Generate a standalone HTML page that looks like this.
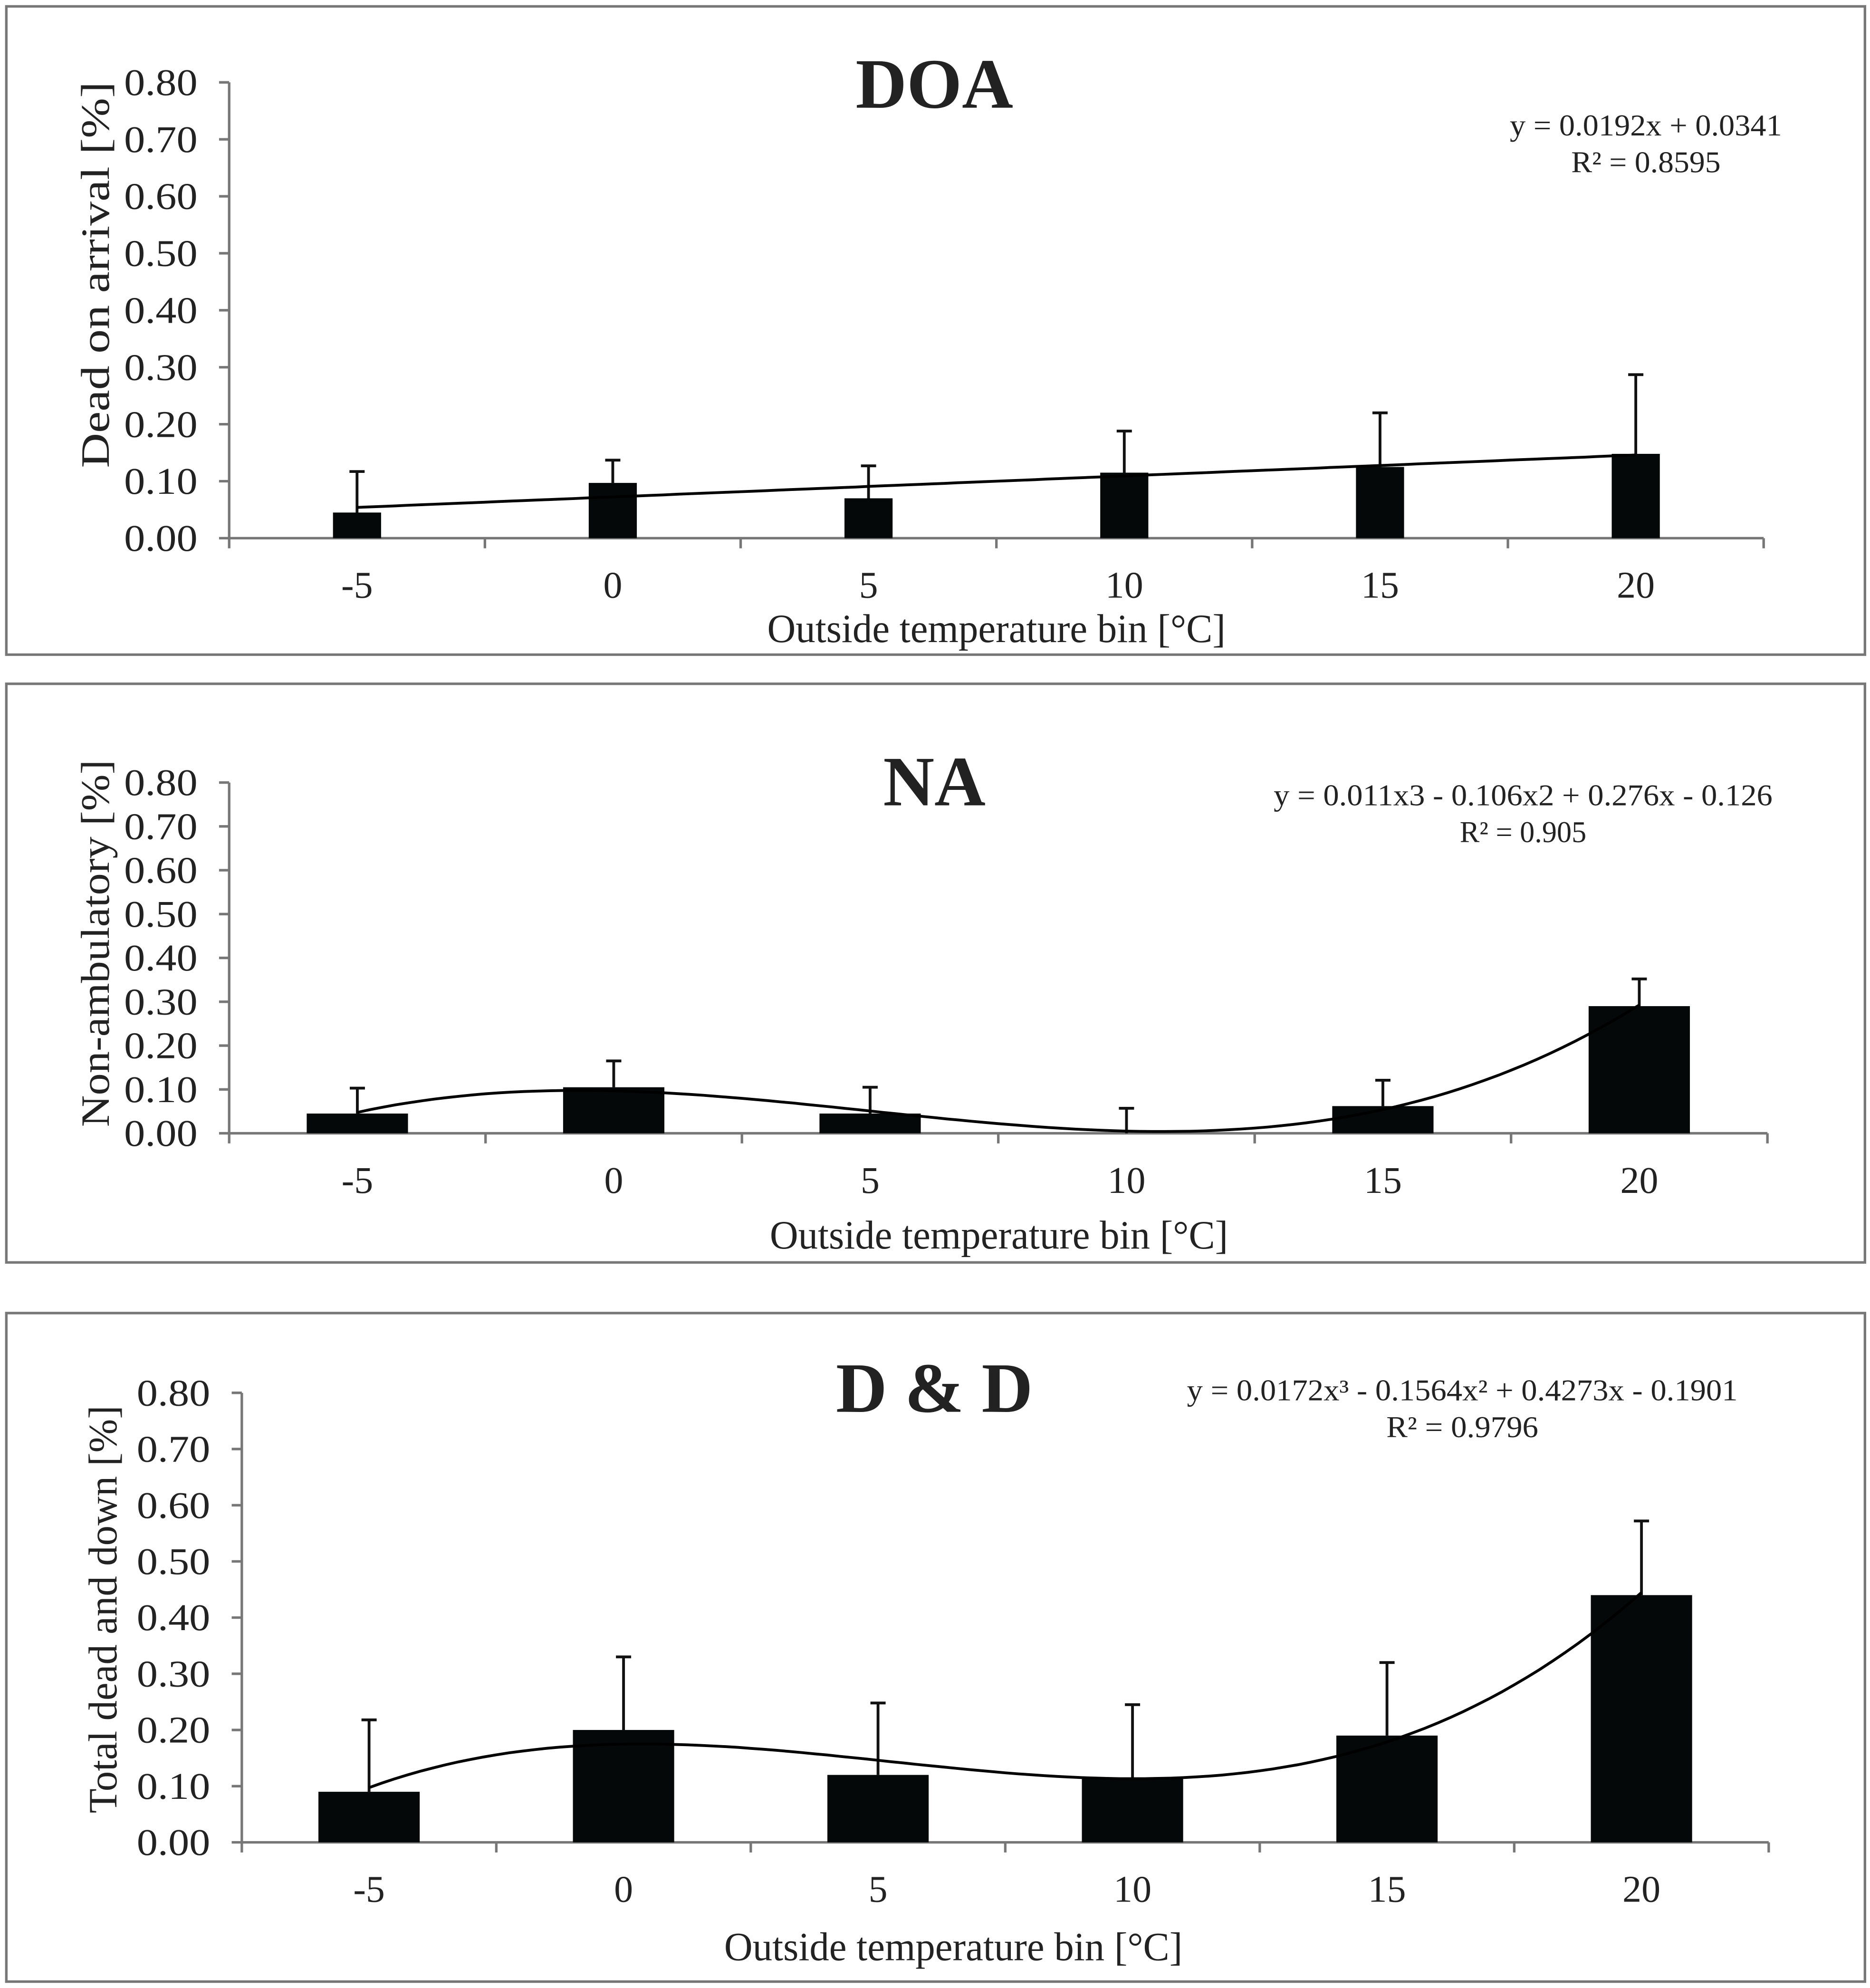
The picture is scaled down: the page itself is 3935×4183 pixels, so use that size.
<!DOCTYPE html>
<html><head><meta charset="utf-8"><style>html,body{margin:0;padding:0;background:#fff}svg{display:block}</style></head>
<body>
<svg id="chart" width="3935" height="4183" viewBox="0 0 1477 1570" xmlns="http://www.w3.org/2000/svg" font-family="Liberation Serif, serif"></svg>
<script>
const categories = ["-5","0","5","10","15","20"];
const yTicks = ["0.00","0.10","0.20","0.30","0.40","0.50","0.60","0.70","0.80"];
const doaValues = [0.045,0.097,0.070,0.115,0.125,0.148];
const doaErrors = [0.117,0.137,0.127,0.188,0.220,0.287];
const naValues = [0.045,0.105,0.045,0.0,0.062,0.290];
const naErrors = [0.103,0.165,0.105,0.057,0.121,0.352];
const ddValues = [0.090,0.200,0.120,0.115,0.190,0.440];
const ddErrors = [0.218,0.330,0.248,0.245,0.320,0.572];

const svg = document.getElementById('chart');
const NS = 'http://www.w3.org/2000/svg';
function mk(tag, attrs, parent){const e=document.createElementNS(NS,tag);for(const k in attrs)e.setAttribute(k,attrs[k]);(parent||svg).appendChild(e);return e;}

// least-squares polynomial fit (x = 1..n)
function polyfit(vals, deg){
  const m=deg+1, A=[];
  for(let r=0;r<m;r++){A.push(new Array(m+1).fill(0));}
  vals.forEach((v,i)=>{const x=i+1;for(let r=0;r<m;r++){for(let c=0;c<m;c++)A[r][c]+=Math.pow(x,r+c);A[r][m]+=v*Math.pow(x,r);}});
  for(let i=0;i<m;i++){let p=i;for(let k=i+1;k<m;k++)if(Math.abs(A[k][i])>Math.abs(A[p][i]))p=k;[A[i],A[p]]=[A[p],A[i]];
    for(let k=0;k<m;k++){if(k===i)continue;const f=A[k][i]/A[i][i];for(let c=i;c<=m;c++)A[k][c]-=f*A[i][c];}}
  return A.map((row,i)=>row[m]/row[i]);
}

const panels = [
 {id:'doa',title:'DOA',ylab:'Dead on arrival [%]',vals:doaValues,errs:doaErrors,deg:1,
  box:[5,5,1468,512],x0:181,x1:1393,y0:425,ytop:65,bw:38,tx:738,ty:85,eq:['y = 0.0192x + 0.0341','R² = 0.8595'],ex:1300,ey:107,eqw:[215,118],lx:472,atx:507,atc:787,ylx:86,ylc:217,yll:305},
 {id:'na',title:'NA',ylab:'Non-ambulatory [%]',vals:naValues,errs:naErrors,deg:3,
  box:[5,540,1468,457],x0:181,x1:1396,y0:895,ytop:618,bw:80,tx:738,ty:636,eq:['y = 0.011x3 - 0.106x2 + 0.276x - 0.126','R² = 0.905'],ex:1203,ey:636,eqw:[394,100],lx:942,atx:986,atc:789,ylx:86,ylc:745,yll:290},
 {id:'dd',title:'D & D',ylab:'Total dead and down [%]',vals:ddValues,errs:ddErrors,deg:3,
  box:[5,1037,1468,528],x0:191,x1:1397,y0:1455,ytop:1100,bw:80,tx:738,ty:1115,eq:['y = 0.0172x³ - 0.1564x² + 0.4273x - 0.1901','R² = 0.9796'],ex:1155,ey:1106,eqw:[435,120],lx:1502,atx:1548,atc:753,ylx:92,ylc:1271,yll:322}
];

panels.forEach(p=>{
  const g = mk('g',{});
  
  
  const fr = mk('rect',{x:p.box[0],y:p.box[1],width:p.box[2],height:p.box[3],fill:'none',stroke:'#777','stroke-width':2},g);
  
  
  const n = categories.length, band=(p.x1-p.x0)/n;
  const xs = i=>p.x0+band*(i+0.5);
  const ys = v=>p.y0-(v/0.8)*(p.y0-p.ytop);
  const ya = mk('line',{x1:p.x0,y1:p.ytop,x2:p.x0,y2:p.y0,stroke:'#777','stroke-width':2},g);
  
  
  const xa = mk('line',{x1:p.x0,y1:p.y0,x2:p.x1,y2:p.y0,stroke:'#777','stroke-width':2},g);
  
  
  yTicks.forEach(t=>{
    const v=parseFloat(t), y=ys(v);
    mk('line',{x1:p.x0-8,y1:y,x2:p.x0,y2:y,stroke:'#777','stroke-width':2},g);
    const tl = mk('text',{x:p.x0-25,y:y+10,'font-size':30,'text-anchor':'end',fill:'#222',textLength:58,lengthAdjust:'spacingAndGlyphs'},g);
    tl.textContent=t;
    
    
  });
  for(let i=0;i<=n;i++){const x=p.x0+band*i;mk('line',{x1:x,y1:p.y0,x2:x,y2:p.y0+8,stroke:'#777','stroke-width':2},g);}
  categories.forEach((c,i)=>{
    const tl = mk('text',{x:xs(i),y:p.lx,'font-size':30,'text-anchor':'middle',fill:'#222'},g);
    tl.textContent=c;
    
    
  });
  p.vals.forEach((v,i)=>{
    const b = mk('rect',{x:xs(i)-p.bw/2,y:ys(v),width:p.bw,height:p.y0-ys(v),fill:'#050808'},g);
    
    
    const e = mk('path',{d:`M${xs(i)} ${ys(v)}V${ys(p.errs[i])}M${xs(i)-6} ${ys(p.errs[i])}H${xs(i)+6}`,stroke:'#111','stroke-width':2.2,fill:'none'},g);
    
    
  });
  const c = polyfit(p.vals, p.deg);
  let d='';
  for(let k=0;k<=100;k++){
    const t=1+5*k/100;
    let v=0; c.forEach((a,j)=>{v+=a*Math.pow(t,j);});
    const x=xs(0)+(xs(n-1)-xs(0))*k/100;
    d+=(k?'L':'M')+x.toFixed(1)+' '+ys(v).toFixed(1);
  }
  const tr = mk('path',{d,stroke:'#000','stroke-width':2.2,fill:'none'},g);
  
  
  const ti = mk('text',{x:p.tx,y:p.ty,'font-size':56,'font-weight':'bold','text-anchor':'middle',fill:'#222'},g);
  ti.textContent=p.title;
  
  
  p.eq.forEach((s,i)=>{
    const t = mk('text',{x:p.ex,y:p.ey+i*29,'font-size':24,'text-anchor':'middle',fill:'#222',textLength:p.eqw[i],lengthAdjust:'spacingAndGlyphs'},g);
    t.textContent=s;
    
    
  });
  const at = mk('text',{x:p.atc,y:p.atx,'font-size':32,'text-anchor':'middle',fill:'#222',textLength:362,lengthAdjust:'spacingAndGlyphs'},g);
  at.textContent='Outside temperature bin [°C]';
  
  
  const yt = mk('text',{x:p.ylx,y:p.ylc,'font-size':32,'text-anchor':'middle',fill:'#222',textLength:p.yll,lengthAdjust:'spacingAndGlyphs',transform:`rotate(-90 ${p.ylx} ${p.ylc})`},g);
  yt.textContent=p.ylab;
  
  
});
</script>
</body></html>
